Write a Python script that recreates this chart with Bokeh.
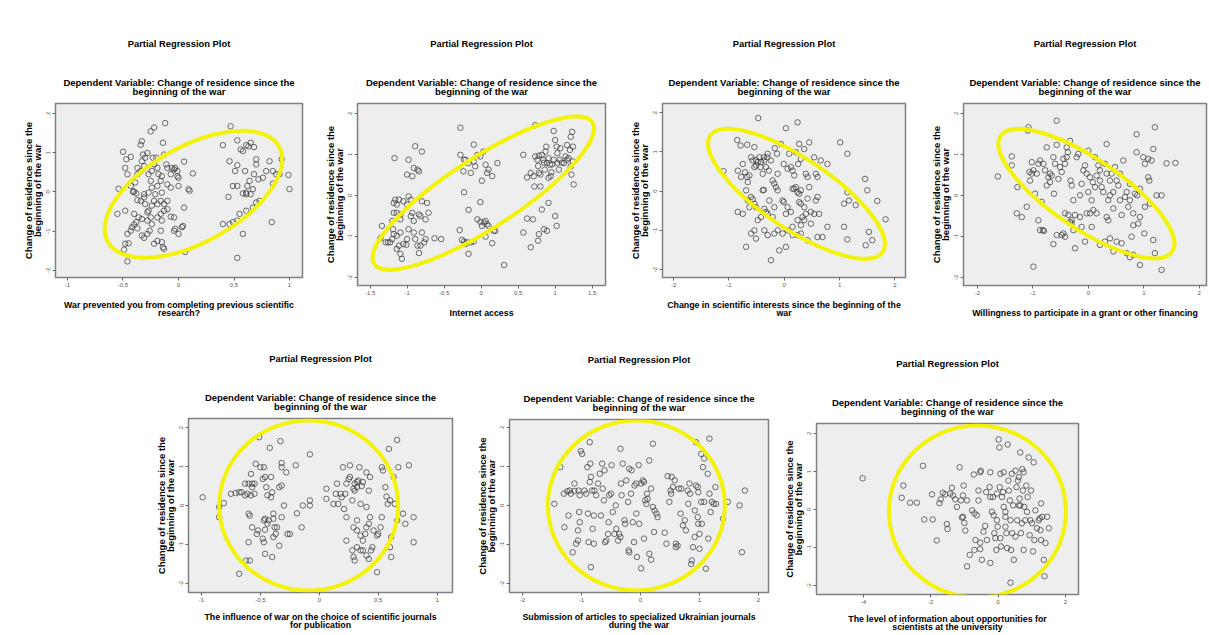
import math
from bokeh.plotting import figure
from bokeh.layouts import column, row
from bokeh.models import Spacer, Title, FixedTicker, Range1d, CustomJSTickFormatter, LinearAxis
from bokeh.embed import file_html
from bokeh.resources import INLINE

MAIN_TITLE = "Partial Regression Plot"
SUBTITLE = "Dependent Variable: Change of residence since the\nbeginning of the war"
Y_LABEL = "Change of residence since the\nbeginning of the war"

x_labels = [
    "War prevented you from completing previous scientific\nresearch?",
    "Internet access",
    "Change in scientific interests since the beginning of the\nwar",
    "Willingness to participate in a grant or other financing",
    "The influence of war on the choice of scientific journals\nfor publication",
    "Submission of articles to specialized Ukrainian journals\nduring the war",
    "The level of information about opportunities for\nscientists at the university",
]
x_ticks = [
    [-1, -0.5, 0, 0.5, 1],
    [-1.5, -1, -0.5, 0, 0.5, 1, 1.5],
    [-2, -1, 0, 1, 2],
    [-2, -1, 0, 1, 2],
    [-1, -0.5, 0, 0.5, 1],
    [-2, -1, 0, 1, 2],
    [-4, -2, 0, 2],
]
y_ticks = [-2, -1, 0, 1, 2]

p1_points = [
    (-0.54,0.08),(-0.50,1.02),(-0.47,0.83),(-0.43,0.89),(-0.48,0.61),(-0.46,0.45),(-0.43,0.15),(-0.41,0.00),(-0.40,0.01),(-0.39,0.24),
    (-0.37,0.61),(-0.37,0.45),(-0.34,0.53),(-0.33,0.78),(-0.32,0.95),(-0.34,1.20),(-0.33,1.29),(-0.31,0.66),(-0.30,0.87),(-0.28,0.99),
    (-0.27,0.45),(-0.25,0.28),(-0.24,0.53),(-0.22,0.70),(-0.23,0.87),(-0.25,1.54),(-0.22,1.64),(-0.20,0.87),(-0.19,0.61),(-0.18,0.45),
    (-0.16,0.28),(-0.15,0.40),(-0.14,1.25),(-0.12,1.75),(-0.13,0.95),(-0.11,0.70),(-0.10,0.61),(-0.07,0.45),(-0.06,0.61),(-0.04,0.57),
    (-0.03,0.61),(-0.01,0.53),(-0.01,0.40),(0.00,0.36),(0.00,0.15),(0.05,0.77),(0.09,0.07),(0.10,0.03),(0.13,0.47),(-0.10,0.19),
    (-0.19,0.15),(-0.24,0.11),(-0.27,-0.02),(-0.31,-0.06),(-0.34,-0.23),(-0.37,-0.21),(-0.30,-0.31),(-0.27,-0.48),(-0.25,-0.65),(-0.28,-0.73),
    (-0.33,-0.69),(-0.36,-0.65),(-0.38,-0.77),(-0.40,-0.83),(-0.42,-0.90),(-0.37,-0.93),(-0.33,-1.11),(-0.31,-1.17),(-0.28,-1.07),(-0.26,-0.99),
    (-0.24,-0.82),(-0.19,-0.65),(-0.16,-0.56),(-0.13,-0.48),(-0.10,-0.44),(-0.07,-0.63),(-0.04,-0.65),(-0.46,-1.07),(-0.43,-0.99),(-0.48,-1.32),
    (-0.45,-1.31),(-0.49,-1.47),(-0.55,-0.56),(-0.48,-0.48),(-0.40,-0.56),(-0.22,-1.32),(-0.19,-1.25),(-0.15,-1.28),(-0.14,-1.41),(-0.13,-1.45),
    (-0.16,-0.99),(-0.22,-0.23),(-0.19,-0.31),(-0.16,-0.23),(-0.13,-0.31),(-0.10,-0.23),(-0.07,0.11),(-0.15,-0.02),(-0.21,-0.06),(-0.04,-0.99),
    (-0.03,-0.94),(0.00,-1.07),(0.03,-0.90),(0.04,-0.87),(0.06,-1.53),(-0.46,-1.77),(-0.28,-0.52),(-0.24,-0.35),(-0.31,-0.14),(-0.38,-0.04),
    (0.05,-0.40),(-0.15,-0.73),
    (0.40,1.19),(0.47,1.67),(0.53,1.31),(0.56,1.08),(0.58,1.04),(0.61,1.19),(0.63,1.16),(0.65,1.25),(0.68,1.14),(0.46,0.78),
    (0.51,0.53),(0.53,0.68),(0.60,0.53),(0.64,0.28),(0.68,0.45),(0.70,0.70),(0.70,0.83),(0.72,0.32),(0.76,0.36),(0.79,0.53),
    (0.82,0.78),(0.85,0.53),(0.85,0.21),(0.88,0.45),(0.91,0.45),(0.93,0.83),(0.99,0.43),(1.00,0.07),(0.45,-0.13),(0.49,0.15),
    (0.53,0.15),(0.58,-0.04),(0.61,-0.02),(0.62,0.15),(0.65,-0.06),(0.67,0.07),(0.70,-0.27),(0.73,-0.23),(0.67,-0.40),(0.61,-0.48),
    (0.55,-0.56),(0.53,-0.73),(0.49,-0.77),(0.46,-0.82),(0.40,-0.82),(0.58,-1.07),(0.53,-1.68),(0.84,-0.77),(0.61,-0.06),
]

p2_points = [
    (-1.34,-0.74),(-1.36,-1.04),(-1.29,-1.14),(-1.26,-1.14),(-1.23,-1.14),(-1.20,-1.06),(-1.18,-0.94),(-1.19,-0.82),(-1.20,-0.62),(-1.18,-0.42),
    (-1.16,-0.10),(-1.18,-0.18),(-1.14,-0.22),(-1.14,-0.42),(-1.11,-0.10),(-1.09,-0.58),(-1.09,-0.90),(-1.14,-0.98),(-1.14,-1.30),(-1.09,-1.42),
    (-1.07,-1.54),(-1.11,-1.22),(-1.05,-1.18),(-1.01,-1.20),(-1.00,-1.06),(-0.98,-0.82),(-0.95,-0.50),(-1.00,-0.22),(-0.98,-0.02),(-1.00,0.51),
    (-0.98,0.87),(-0.93,0.47),(-0.91,0.67),(-0.89,1.20),(-0.86,0.63),(-0.84,0.59),(-0.95,-0.10),(-0.93,-0.42),(-0.91,-0.62),(-0.91,-0.90),
    (-0.89,-1.06),(-0.86,-1.22),(-0.84,-1.40),(-0.82,-1.22),(-0.80,-0.90),(-0.77,-1.14),(-0.82,-0.50),(-0.84,-0.46),(-0.80,-0.14),(-0.75,-0.58),
    (-0.75,-1.06),(-0.73,-0.18),(-0.71,-0.42),(-0.63,-1.04),(-0.54,-1.06),(-1.05,-0.14),(-1.09,-0.46),(-0.80,1.07),(-1.17,0.91),
    (-0.28,1.65),(-0.28,0.99),(-0.23,0.87),(-0.24,0.59),(-0.21,0.87),(-0.17,0.79),(-0.14,0.55),(-0.10,0.83),(-0.10,1.24),(-0.08,0.71),
    (-0.05,0.99),(-0.01,0.95),(0.01,0.36),(0.03,1.07),(0.08,0.55),(0.06,0.75),(0.10,0.63),(0.15,0.47),(0.22,0.79),(-0.23,0.08),
    (-0.17,-0.35),(-0.01,-0.16),(-0.05,-0.58),(-0.01,-0.64),(0.04,-0.66),(0.06,-0.62),(0.08,-0.70),(0.10,-0.74),(0.01,-0.74),(0.06,-1.00),
    (0.17,-0.86),(0.19,-0.86),(-0.29,-0.84),(-0.26,-1.08),(-0.23,-1.12),(-0.21,-1.18),(-0.19,-1.14),(-0.17,-1.42),(-0.14,-1.14),(-0.10,-1.12),
    (0.15,-1.16),(0.31,-1.69),
    (0.57,0.99),(0.67,0.55),(0.71,0.47),(0.72,0.22),(0.73,0.95),(0.76,0.87),(0.77,0.72),(0.78,0.55),(0.80,0.51),(0.78,0.97),
    (0.82,0.99),(0.84,0.87),(0.85,0.80),(0.86,0.63),(0.89,0.79),(0.87,1.07),(0.88,1.19),(0.91,0.91),(0.93,0.75),(0.91,0.43),
    (0.94,0.47),(0.95,0.57),(0.96,0.76),(0.98,0.87),(0.98,1.57),(1.00,1.35),(1.02,1.19),(1.03,1.03),(1.03,0.79),(1.05,0.63),
    (1.06,0.87),(1.07,1.15),(1.09,0.80),(1.12,0.79),(1.14,0.95),(1.16,0.87),(1.18,0.91),(1.16,1.23),(1.20,1.11),(1.21,1.43),
    (1.23,1.55),(1.24,1.19),(1.22,0.51),(1.25,0.27),(1.24,0.83),(1.21,0.71),(0.73,1.71),(0.62,0.44),(0.80,0.22),(0.91,-0.18),
    (0.82,-0.34),(0.62,-0.56),(0.70,-0.58),(0.57,-0.90),(0.67,-1.26),(0.77,-1.10),(0.78,-0.94),(0.85,-0.82),(0.89,-0.86),(1.00,-0.50),
    (1.02,-0.74),
]

p3_points = [
    (-1.10,0.51),(-0.85,1.30),(-0.84,0.52),(-0.79,1.16),(-0.78,0.36),(-0.75,0.69),(-0.71,0.48),(-0.67,1.18),(-0.67,0.36),(-0.66,0.23),
    (-0.63,0.40),(-0.60,0.86),(-0.57,0.78),(-0.54,1.12),(-0.51,0.79),(-0.54,0.61),(-0.51,0.65),(-0.48,0.74),(-0.47,1.86),(-0.45,0.86),
    (-0.43,0.61),(-0.42,0.74),(-0.39,0.44),(-0.37,0.86),(-0.36,0.78),(-0.33,0.61),(-0.31,0.86),(-0.30,0.95),(-0.28,0.52),(-0.24,0.78),
    (-0.21,0.27),(-0.18,0.19),(-0.17,1.09),(-0.13,0.95),(-0.12,0.44),(-0.06,1.20),(-0.01,0.69),(0.03,1.60),(0.06,0.57),(0.09,0.95),
    (0.12,0.61),(0.15,0.52),(0.18,0.40),(0.21,0.99),(0.24,1.75),(0.25,0.69),(0.27,1.20),(0.30,0.82),(0.36,1.07),(0.39,0.44),
    (0.42,0.36),(0.45,1.24),(0.54,0.86),(0.57,0.44),(0.60,0.36),(0.66,0.78),(0.78,0.69),(1.01,1.24),(1.14,0.95),
    (-0.69,0.02),(-0.66,-0.24),(-0.63,-0.41),(-0.60,-0.15),(-0.57,-0.21),(-0.54,-0.32),(-0.51,-0.41),(-0.48,-0.74),(-0.42,-0.66),(-0.39,0.02),
    (-0.37,0.03),(-0.36,-0.45),(-0.33,-0.53),(-0.30,-0.58),(-0.27,-0.24),(-0.21,-0.66),(-0.18,-0.41),(-0.15,0.10),(-0.12,0.02),(-0.03,-0.24),
    (-0.01,-0.28),(0.03,-0.58),(0.06,-0.41),(0.12,-0.53),(0.15,0.06),(0.18,0.06),(0.21,0.10),(0.24,-0.03),(0.27,-0.07),(0.30,0.02),
    (0.27,-0.28),(0.30,-0.32),(0.33,-0.66),(0.36,-0.41),(0.39,-0.58),(0.42,-0.19),(0.45,0.10),(0.48,-0.53),(0.54,-0.58),(0.57,-0.24),
    (0.60,-0.15),(0.63,-0.58),(0.36,-0.74),(0.30,-0.87),(0.24,-0.74),(0.15,-0.91),(0.06,-1.00),(-0.03,-1.08),(-0.12,-1.00),(-0.18,-1.08),
    (-0.30,-1.12),(-0.36,-1.00),(-0.51,-1.21),(-0.54,-1.00),(-0.60,-1.08),(-0.84,-0.53),(-0.75,-0.58),(-0.69,-1.42),(-0.24,-1.76),(-0.09,-1.51),
    (0.03,-1.42),(0.15,-1.12),(0.24,-1.12),(0.30,-1.08),(0.42,-1.25),(0.48,-0.83),(0.60,-1.17),(0.69,-1.17),(0.78,-0.91),(1.08,-0.32),
    (1.14,-0.03),(1.17,-0.24),(1.29,-0.36),(1.46,0.31),(1.50,0.02),(1.68,-0.25),(1.83,-0.72),(1.08,-0.91),(1.14,-1.23),(1.47,-1.38),
    (1.53,-1.04),(1.59,-1.25),
]

p4_points = [
    (-1.63,0.46),(-1.38,0.95),(-1.38,0.73),(-1.28,0.20),(-1.29,-0.44),(-1.20,-0.53),(-1.11,-0.28),(-1.08,1.66),(-1.09,1.58),(-1.06,0.57),
    (-1.05,0.36),(-1.02,0.53),(-0.99,0.61),(-0.96,0.04),(-0.93,0.53),(-0.90,-0.61),(-0.87,-0.85),(-0.84,-0.16),(-0.82,-0.85),(-0.80,-0.87),
    (-1.02,0.81),(-0.90,0.77),(-0.87,0.85),(-0.81,0.77),(-0.78,0.61),(-0.75,0.24),(-0.75,1.17),(-0.72,0.44),(-0.69,0.53),(-0.69,0.32),
    (-0.66,0.48),(-0.63,0.93),(-0.62,0.04),(-0.60,0.77),(-0.57,1.23),(-0.57,1.82),(-0.54,0.40),(-0.51,0.69),(-0.48,0.57),(-0.45,0.89),
    (-0.42,0.77),(-0.39,0.93),(-0.39,1.17),(-0.37,1.05),(-0.33,1.33),(-0.32,0.36),(-0.30,0.24),(-0.27,-0.12),(-0.24,-0.48),(-0.30,-0.61),
    (-0.36,-0.48),(-0.42,-0.44),(-0.45,-0.93),(-0.48,-0.97),(-0.42,-1.01),(-0.33,-0.65),(-0.30,-0.69),(-0.27,-0.85),(-0.24,-1.29),(-0.21,0.93),
    (-0.18,1.01),(-0.15,0.00),(-0.12,0.28),(-0.09,0.61),(-0.06,0.73),(-0.03,0.53),(-0.03,-0.44),(0.00,0.08),(0.00,1.09),(0.03,-0.44),
    (0.03,0.44),(0.06,-0.12),(0.08,0.32),(0.09,-0.36),(0.12,0.20),(0.12,0.93),(0.15,0.48),(0.18,0.73),(0.21,0.36),(0.21,0.61),
    (0.24,0.20),(0.27,0.08),(0.30,0.77),(0.33,1.25),(0.33,0.53),(0.36,-0.12),(0.36,-0.61),(0.39,0.36),(0.39,0.00),(0.42,0.53),
    (0.45,0.08),(0.45,-0.32),(0.48,0.69),(0.51,0.36),(0.54,0.24),(0.57,-0.12),(0.57,0.53),(0.60,-0.48),(0.63,0.85),(0.66,-0.04),
    (0.69,0.08),(0.72,-0.28),(0.75,0.28),(0.75,-0.12),(0.78,-1.01),(0.81,-0.44),(0.81,-0.73),(0.84,0.04),(0.87,1.49),(0.87,1.05),
    (0.88,0.00),(0.90,-0.69),(0.93,0.16),(0.99,0.93),(1.01,-0.93),(1.02,0.77),(1.08,0.89),(1.08,0.44),(1.10,0.36),(1.14,0.85),
    (1.17,1.13),(1.20,-1.41),(1.20,1.66),(1.23,0.00),(1.32,-1.82),(1.32,0.00),(1.41,0.78),(1.57,0.79),(0.93,-1.70),(0.21,-1.21),
    (0.30,-1.13),(0.39,-1.05),(0.45,-1.37),(0.81,-1.45),(1.17,-1.09),(0.15,-0.44),(0.06,-0.77),(-0.06,-1.13),(-0.12,-0.77),(-0.15,-0.53),
    (0.33,-0.53),(0.51,-1.13),(0.60,-1.17),(0.69,-1.41),(0.75,-1.51),(0.93,-0.53),(1.02,-0.28),(1.11,-0.20),(-0.99,-1.74),(-0.63,-1.19),
    (-0.57,-0.97),
]

p5_points = [
    (-0.99,0.21),(-0.85,-0.04),(-0.85,-0.30),(-0.81,0.06),(-0.75,0.30),(-0.71,0.32),(-0.68,0.34),(-0.66,0.34),(-0.63,0.56),(-0.63,0.26),
    (-0.61,0.30),(-0.60,0.56),(-0.58,0.81),(-0.57,0.47),(-0.58,0.26),(-0.57,0.56),(-0.59,-0.26),(-0.60,-0.94),(-0.59,-1.41),(-0.57,-0.56),
    (-0.55,0.56),(-0.55,0.30),(-0.53,-0.73),(-0.52,-0.64),(-0.51,1.75),(-0.54,1.07),(-0.50,0.98),(-0.48,-0.85),(-0.47,-0.94),(-0.47,0.98),
    (-0.48,0.68),(-0.46,0.73),(-0.45,0.47),(-0.44,0.26),(-0.46,-0.62),(-0.44,-0.47),(-0.43,-0.38),(-0.47,-0.38),(-0.46,-0.34),(-0.46,-1.24),
    (-0.41,0.73),(-0.41,0.21),(-0.42,1.48),(-0.40,0.34),(-0.40,-1.32),(-0.39,-0.21),(-0.39,-0.34),(-0.39,-0.81),(-0.38,-0.56),(-0.37,-0.73),
    (-0.36,-0.56),(-0.34,-1.03),(-0.34,0.47),(-0.33,1.65),(-0.32,0.98),(-0.32,1.09),(-0.32,-0.30),(-0.32,0.51),(-0.30,0.00),(-0.28,0.85),
    (-0.27,-0.73),(-0.25,-0.73),(-0.20,1.03),(-0.19,-0.20),(-0.15,-0.56),(-0.14,0.00),(-0.08,1.31),(-0.08,0.13),(-0.08,0.00),(-0.68,-1.75),
    (-0.60,-0.21),(-0.62,-1.41),
    (0.06,0.17),(0.06,0.43),(0.12,0.04),(0.14,0.30),(0.15,0.56),(0.16,0.04),(0.18,0.30),(0.19,0.21),(0.20,0.98),(0.21,-0.09),
    (0.22,0.30),(0.23,-0.30),(0.26,1.03),(0.23,-0.90),(0.23,0.56),(0.25,0.68),(0.26,0.73),(0.28,0.13),(0.29,0.43),(0.30,0.56),
    (0.30,0.38),(0.32,0.47),(0.32,0.60),(0.33,0.64),(0.34,0.98),(0.35,0.04),(0.36,0.50),(0.37,0.60),(0.40,0.85),(0.40,-0.04),
    (0.42,0.38),(0.43,0.73),(0.29,-0.56),(0.32,-0.38),(0.32,-0.64),(0.35,-0.77),(0.28,-1.15),(0.29,-1.32),(0.30,-1.41),(0.32,-1.07),
    (0.35,-1.15),(0.37,-0.90),(0.39,-0.73),(0.40,-0.56),(0.42,-0.47),(0.43,-0.30),(0.37,-1.15),(0.40,-1.28),(0.42,-1.37),(0.44,-1.15),
    (0.45,-1.07),(0.46,-0.64),(0.49,-0.77),(0.50,-0.73),(0.52,-0.56),(0.53,-0.30),(0.53,0.98),(0.54,0.90),(0.56,0.47),(0.57,0.23),
    (0.58,0.04),(0.59,1.45),(0.60,0.13),(0.61,-1.32),(0.61,-0.81),(0.60,-1.07),(0.63,0.73),(0.64,0.04),(0.66,-0.38),(0.67,0.98),
    (0.71,-0.21),(0.73,-0.47),(0.76,1.03),(0.80,-0.30),(0.80,-0.94),(0.49,-1.71),(0.66,1.68),
]

p6_points = [
    (-1.46,0.04),(-1.36,0.98),(-1.30,0.30),(-1.29,-0.56),(-1.22,-0.26),(-1.24,0.36),(-1.20,0.38),(-1.18,0.30),(-1.15,-1.20),(-1.12,0.37),
    (-1.09,-0.98),(-1.12,0.56),(-1.06,-0.64),(-1.05,0.38),(-1.04,-0.17),(-1.03,0.26),(-1.06,-0.90),(-1.03,-0.43),(-1.01,1.39),(-0.99,1.32),
    (-0.95,0.38),(-0.92,0.30),(-0.90,0.98),(-0.89,-0.21),(-0.88,-0.94),(-0.86,1.62),(-0.86,0.60),(-0.85,1.07),(-0.84,0.73),(-0.82,0.38),
    (-0.84,-1.58),(-0.81,-0.60),(-0.78,0.38),(-0.79,-0.98),(-0.79,-0.26),(-0.75,0.26),(-0.72,0.56),(-0.69,0.81),(-0.67,-0.26),(-0.65,1.07),
    (-0.64,0.43),(-0.62,0.13),(-0.61,0.90),(-0.60,-0.94),(-0.58,-0.90),(-0.55,-0.73),(-0.54,-0.43),(-0.53,0.26),(-0.50,0.30),(-0.49,1.03),
    (-0.47,-0.17),(-0.44,-0.73),(-0.42,0.00),(-0.41,-0.60),(-0.38,-0.90),(-0.36,-0.73),(-0.34,1.45),(-0.34,-0.81),(-0.33,0.56),(-0.32,0.26),
    (-0.30,1.07),(-0.27,-0.38),(-0.26,-0.47),(-0.24,0.64),(-0.21,0.09),(-0.20,-1.15),(-0.19,0.94),(-0.19,-1.20),(-0.16,0.30),(-0.15,0.90),
    (-0.13,-0.43),(-0.11,-0.94),(-0.10,0.51),(-0.07,0.56),(-0.07,-0.21),(-0.06,-1.32),(-0.03,1.03),(-0.02,-0.47),(0.01,0.56),(0.04,0.64),
    (0.01,-1.61),(0.06,0.60),(0.06,-0.85),(0.08,0.13),(0.10,0.04),(0.11,0.30),(0.12,0.17),(0.15,-1.24),(0.15,1.15),(0.18,-1.39),
    (0.18,0.43),(0.21,1.58),(0.21,-0.04),(0.23,-0.68),(0.24,-0.13),(0.27,-0.21),(0.29,-0.30),(0.41,-0.70),(0.44,-0.98),(0.46,0.75),
    (0.49,0.09),(0.51,0.38),(0.52,0.30),(0.53,0.73),(0.55,0.47),(0.58,0.64),(0.60,-0.98),(0.60,-1.07),(0.63,-1.03),(0.65,0.43),
    (0.68,-0.21),(0.69,0.43),(0.72,-0.51),(0.75,-0.38),(0.77,-0.64),(0.80,0.38),(0.81,0.04),(0.83,0.56),(0.84,0.30),(0.86,-1.50),
    (0.87,-1.41),(0.89,-1.07),(0.92,-0.81),(0.92,-0.13),(0.94,1.62),(0.94,0.51),(0.97,0.47),(0.97,-0.30),(0.98,0.34),(0.98,-0.47),
    (1.00,-1.11),(1.00,-0.73),(1.03,0.09),(1.04,-0.47),(1.06,0.98),(1.08,1.20),(1.08,0.09),(1.11,-1.62),(1.14,0.81),(1.15,-0.85),
    (1.17,0.30),(1.19,-0.17),(1.21,0.09),(1.24,0.04),(1.27,0.47),(1.28,0.04),(1.40,-0.34),(1.48,0.09),(1.68,0.00),(1.72,-1.20),
    (1.77,0.38),(1.17,1.71),(1.03,1.32),
]

p7_points = [
    (-4.02,0.82),(-2.86,0.31),(-2.81,0.63),(-2.61,0.18),(-2.41,0.18),(-2.23,1.15),(-2.19,-0.26),(-1.96,0.40),(-1.94,-0.26),(-1.82,-0.81),
    (-1.74,0.17),(-1.70,0.27),(-1.64,0.44),(-1.57,0.40),(-1.52,-0.38),(-1.50,-0.51),(-1.42,0.42),(-1.37,0.57),(-1.34,0.37),(-1.27,0.27),
    (-1.22,0.07),(-1.14,1.11),(-1.10,0.24),(-1.07,-0.21),(-1.04,-0.19),(-1.04,0.37),(-1.02,0.63),(-1.00,-0.35),(-0.97,-0.55),(-0.92,0.24),
    (-0.92,-1.49),(-0.84,-1.19),(-0.77,-0.02),(-0.72,0.92),(-0.70,-0.10),(-0.70,-1.06),(-0.67,-0.80),(-0.63,-0.15),(-0.58,0.24),(-0.58,0.50),
    (-0.53,0.98),(-0.51,1.02),(-0.53,-0.87),(-0.53,-1.04),(-0.48,-1.32),(-0.43,-0.58),(-0.38,-0.43),(-0.35,0.46),(-0.33,-0.80),(-0.25,0.59),
    (-0.23,0.98),(-0.23,0.33),(-0.23,-1.40),(-0.18,-0.06),(-0.15,0.33),(-0.13,-0.15),(-0.11,-0.62),(-0.08,-0.75),(-0.05,-1.06),(-0.03,0.42),
    (-0.03,-0.28),(-0.01,-0.45),(0.02,1.84),(0.04,1.63),(0.05,0.59),(0.07,0.94),(0.07,-0.75),(0.09,-0.97),(0.12,0.33),(0.15,0.46),
    (0.17,0.98),(0.17,0.07),(0.22,-0.19),(0.22,-0.45),(0.25,-0.62),(0.27,-1.01),(0.29,1.71),(0.31,0.76),(0.32,0.50),(0.35,0.24),
    (0.37,-0.28),(0.39,-1.06),(0.41,0.94),(0.42,-0.62),(0.45,0.11),(0.47,-1.32),(0.52,-0.71),(0.55,0.59),(0.57,-0.28),(0.59,0.76),
    (0.62,0.11),(0.64,0.29),(0.66,1.50),(0.66,0.11),(0.68,-0.62),(0.71,-0.36),(0.72,1.06),(0.74,0.50),(0.76,-1.06),(0.78,0.07),
    (0.81,-0.28),(0.84,0.63),(0.86,-0.06),(0.88,0.33),(0.91,1.37),(0.94,-0.67),(0.96,-0.28),(0.98,0.50),(1.01,-0.36),(1.04,-1.10),
    (1.06,1.24),(1.08,-0.80),(1.11,-0.02),(1.16,-0.49),(1.21,-0.28),(1.24,-0.23),(1.26,-0.54),(1.28,0.16),(1.31,-0.19),(1.36,-1.32),
    (1.38,-1.75),(1.41,-0.88),(1.46,-0.19),(1.51,-0.49),(1.28,-0.80),(0.22,-0.06),(0.37,-1.92),(0.52,1.02),(0.62,0.85),(0.76,0.98),
]

all_points = [p1_points, p2_points, p3_points, p4_points, p5_points, p6_points, p7_points]

# layout / styling (not data)
x_ranges = [(-1.108, 1.117), (-1.67, 1.68), (-2.2, 2.19), (-2.25, 2.13), (-1.11, 1.13), (-2.22, 2.17), (-5.39, 2.39)]
y_ranges = [(-2.18, 2.25), (-2.19, 2.24), (-2.2, 2.23), (-2.2, 2.24), (-2.23, 2.23), (-2.23, 2.2), (-2.23, 2.26)]
# width, height, border left, right, top, bottom, x-label standoff
boxes = [
    (305, 320, 55, 3, 103, 42, 10),
    (303, 320, 52, 3, 103, 33, 10),
    (300, 320, 54, 3, 103, 43, 10),
    (300, 320, 55, 2, 103, 34, 10),
    (316, 314, 42, 10, 98, 42, 7),
    (310, 314, 47, 4, 99, 42, 7),
    (318, 314, 44, 12, 103, 38, 7),
]
# ellipse: center x, center y (data), major px, minor px, angle deg
ellipses = [
    (0.135, -0.06, 196, 96, 29),
    (0.03, 0.06, 260, 70, 33),
    (0.22, -0.07, 208, 70, -34),
    (-0.035, 0.04, 207, 70, -34),
    (-0.09, 0.0, 179, 170, 0),
    (-0.07, 0.0, 177, 170, 0),
    (-0.61, -0.05, 177, 172, 0),
]

FONT = "Liberation Sans"
fmt = CustomJSTickFormatter(code="return tick.toString().replace('.', ',');")


def make_panel(i):
    w, h, bl, br, bt, bb, xls = boxes[i]
    p = figure(width=w, height=h, x_range=Range1d(*x_ranges[i]), y_range=Range1d(*y_ranges[i]),
               output_backend="svg", toolbar_location=None,
               min_border_left=bl, min_border_right=br, min_border_top=bt, min_border_bottom=bb)
    xa = p.below[0]
    ya = p.left[0]
    # subtitle as the label of a bare axis above the frame (centred multi-line text)
    sub = LinearAxis(axis_label=SUBTITLE, ticker=FixedTicker(ticks=[]),
                     axis_line_color=None, major_tick_line_color=None, minor_tick_line_color=None,
                     major_tick_in=0, major_tick_out=0,
                     major_label_text_font_size="0px", major_label_standoff=0,
                     axis_label_standoff=7, axis_label_text_font=FONT,
                     axis_label_text_font_size="9.5px", axis_label_text_font_style="bold",
                     axis_label_text_color="black", axis_label_text_line_height=0.76)
    p.add_layout(sub, "above")
    p.add_layout(Title(text=MAIN_TITLE, align="center", text_font=FONT, text_font_size="9.4px",
                       text_font_style="bold", text_color="black", standoff=51), "above")
    p.background_fill_color = "#eeeeee"
    p.border_fill_color = "white"
    p.outline_line_color = "#808080"
    p.outline_line_width = 1.5
    p.grid.visible = False

    for ax in (xa, ya):
        ax.axis_line_color = None
        ax.major_tick_in = 0
        ax.major_tick_out = 3
        ax.major_tick_line_color = "#666666"
        ax.minor_tick_line_color = None
        ax.major_label_text_font = FONT
        ax.major_label_text_font_size = "6px"
        ax.major_label_text_color = "#555555"
        ax.major_label_standoff = 2
        ax.axis_label_text_font = FONT
        ax.axis_label_text_font_style = "bold"
        ax.axis_label_text_color = "black"
        ax.axis_label_text_line_height = 0.8
        ax.formatter = fmt
    xa.ticker = FixedTicker(ticks=x_ticks[i])
    ya.ticker = FixedTicker(ticks=y_ticks)
    ya.major_label_orientation = "vertical"
    xa.axis_label = x_labels[i]
    ya.axis_label = Y_LABEL
    xa.axis_label_text_font_size = "8.8px"
    ya.axis_label_text_font_size = "9.5px"
    xa.axis_label_standoff = xls
    ya.axis_label_standoff = 1

    xs = [pt[0] for pt in all_points[i]]
    ys = [pt[1] for pt in all_points[i]]
    p.scatter(xs, ys, marker="circle", size=5.5, fill_color=None,
              line_color="#333333", line_alpha=0.7, line_width=1)
    cx, cy, ew, eh, ang = ellipses[i]
    p.ellipse(x=[cx], y=[cy], width=[ew], height=[eh], angle=[math.radians(ang)],
              width_units="screen", height_units="screen",
              fill_color=None, line_color="#f2f20a", line_width=4)
    return p


panels = [make_panel(i) for i in range(7)]
top = row(*[column(p) for p in panels[:4]])
bottom = row(Spacer(width=146, height=314), *[column(p) for p in panels[4:]])
layout = column(top, bottom)

open("out.html", "w").write(file_html(layout, INLINE))
